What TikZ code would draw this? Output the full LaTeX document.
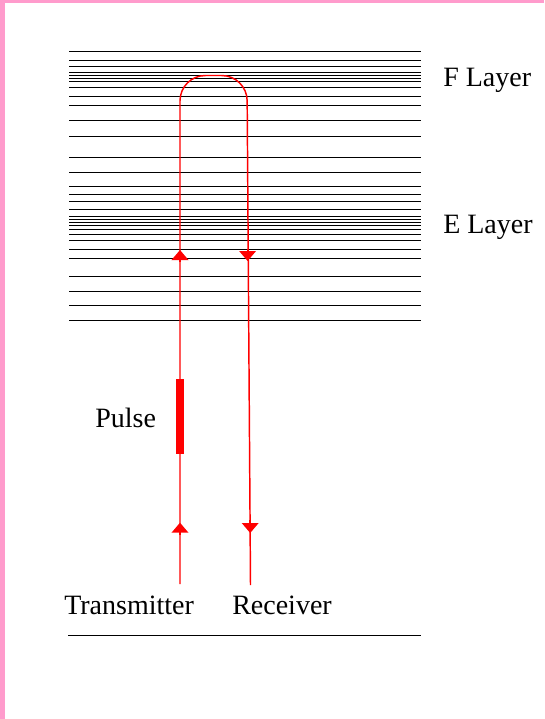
\documentclass[tikz,border=0pt]{standalone}
\usepackage{fontspec}
\setmainfont{Liberation Serif}
\usetikzlibrary{arrows.meta}

\definecolor{slidepink}{RGB}{255,155,204}

\begin{document}
\begin{tikzpicture}[x=0.75pt, y=-0.75pt,
        layer/.style={line width=0.65pt},
        wave/.style={red, line width=1.1pt},
        tip/.style={red, line width=1.1pt, -{Triangle[width=12.5pt, length=7.5pt]}},
        lbl/.style={font=\fontsize{21}{25}\selectfont, inner sep=0pt, anchor=base west}]
        \useasboundingbox (0,0) rectangle (544,719);
        \fill[slidepink] (0,0) rectangle (5.3,719);
        \fill[slidepink] (0,0) rectangle (544,2.8);

        % ionosphere layers
        \foreach \y in {51.7, 60.5, 66.7, 72, 75.3, 78.2, 81.8, 87.3, 96, 105.7, 120.7,
                136.7, 157, 172, 186, 194, 201, 209.5, 216, 219.5, 222.5, 225.5, 229.3,
                234.3, 240.7, 249, 258.3, 276, 291.7, 305.3, 320.7}
            \draw[layer] (69,\y) -- (421,\y);
        \draw[layer] (68,635.7) -- (421,635.7);

        \node[lbl] (flayer) at (443,86) {F Layer};
        \node[lbl] (elayer) at (443,233) {E Layer};
        \node[lbl] (pulse) at (95,427) {Pulse};
        \node[lbl] (trans) at (64,614) {Transmitter};
        \node[lbl] (recv) at (232,614) {Receiver};

        \coordinate (tx) at (180,584);
        \coordinate (rx) at (250.5,585);
        \coordinate (ttop) at (180,75.5);
        \coordinate (rtop) at (247,75.5);

        \draw[wave, rounded corners=19pt] (tx) -- (ttop) -- (rtop) -- (rx);
        \draw[red, line width=5.7pt] (180,379) -- (180,454);

        \draw[tip] (180,262) -- (180,250);
        \draw[tip] (247.6,249) -- (247.6,261);
        \draw[tip] (180,535) -- (180,522.7);
        \draw[tip] (250.2,520) -- (250.2,533);
    \end{tikzpicture}
\end{document}
